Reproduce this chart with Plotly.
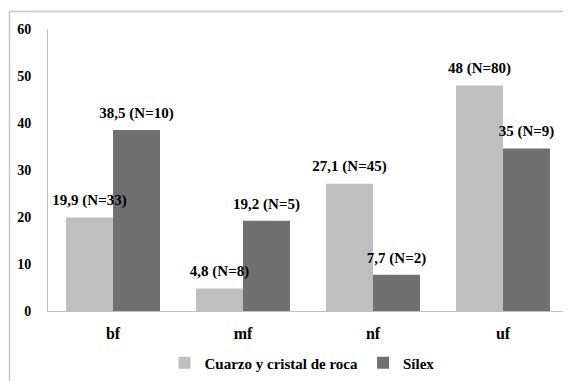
import plotly.graph_objects as go

categories = ["bf", "mf", "nf", "uf"]
series_names = ["Cuarzo y cristal de roca", "Sílex"]
cuarzo_values = [19.9, 4.8, 27.1, 48.0]
silex_values = [38.5, 19.2, 7.7, 34.6]
cuarzo_labels = ["19,9 (N=33)", "4,8 (N=8)", "27,1 (N=45)", "48 (N=80)"]
silex_labels = ["38,5 (N=10)", "19,2 (N=5)", "7,7 (N=2)", "35 (N=9)"]
y_ticks = [0, 10, 20, 30, 40, 50, 60]

# the page body has an 8px default margin, so the figure is placed at (8, 8)
OFF = 8
W, H = 571 - OFF, 381 - OFF
ML, MR, MT, MB = 48 - OFF, 3, 29 - OFF, 69
PW = W - ML - MR
PH = H - MT - MB

FONT = "Liberation Serif, Times New Roman, serif"
GAP = 0.277

fig = go.Figure()
series = [
    (series_names[0], cuarzo_values, cuarzo_labels, "#BFBFBF", "a"),
    (series_names[1], silex_values, silex_labels, "#707070", "b"),
]
for name, vals, labs, col, og in series:
    fig.add_trace(go.Bar(
        x=categories, y=vals, name=name, marker_color=col,
        marker_line_width=0, offsetgroup=og,
    ))
for name, vals, labs, col, og in series:
    fig.add_trace(go.Scatter(
        x=categories, y=vals, mode="markers+text", text=labs, textposition="top center",
        marker=dict(size=12, opacity=0),
        offsetgroup=og, showlegend=False, hoverinfo="skip", cliponaxis=False,
        textfont=dict(family=FONT, size=15, color="#000000", weight="bold"),
    ))

def px_x(p):
    return (p - OFF - ML) / PW

def px_y(p):
    return (H - MB - (p - OFF)) / PH

border = dict(color="#C6C6C6", width=1.5)
fig.update_layout(
    width=W, height=H,
    margin=dict(l=ML, r=MR, t=MT, b=MB),
    paper_bgcolor="white", plot_bgcolor="white",
    barmode="group", bargap=GAP, bargroupgap=0,
    scattermode="group", scattergap=GAP,
    font=dict(family=FONT, size=14, color="#000000", weight="bold"),
    showlegend=True,
    legend=dict(orientation="h", x=px_x(302), xanchor="center", y=px_y(363), yanchor="middle",
                font=dict(family=FONT, size=15, color="#000000", weight="bold"), traceorder="normal",
                itemwidth=30),
    shapes=[
        dict(type="line", xref="paper", yref="paper", x0=px_x(9.5), x1=px_x(575),
             y0=px_y(11.5), y1=px_y(11.5), line=border, layer="above"),
        dict(type="line", xref="paper", yref="paper", x0=px_x(9.5), x1=px_x(9.5),
             y0=px_y(11.5), y1=px_y(390), line=border, layer="above"),
    ],
)
fig.update_xaxes(showline=True, linecolor="#BFBFBF", linewidth=1, ticks="", showgrid=False,
                 tickfont=dict(family=FONT, size=16, color="#000000", weight="bold"), ticklabelstandoff=8)
fig.update_yaxes(range=[0, 60], tickvals=y_ticks, showline=True, linecolor="#BFBFBF", linewidth=1,
                 ticks="", showgrid=False, zeroline=False,
                 tickfont=dict(family=FONT, size=14, color="#000000", weight="bold"), ticklabelstandoff=13)

fig.write_html("out.html")
